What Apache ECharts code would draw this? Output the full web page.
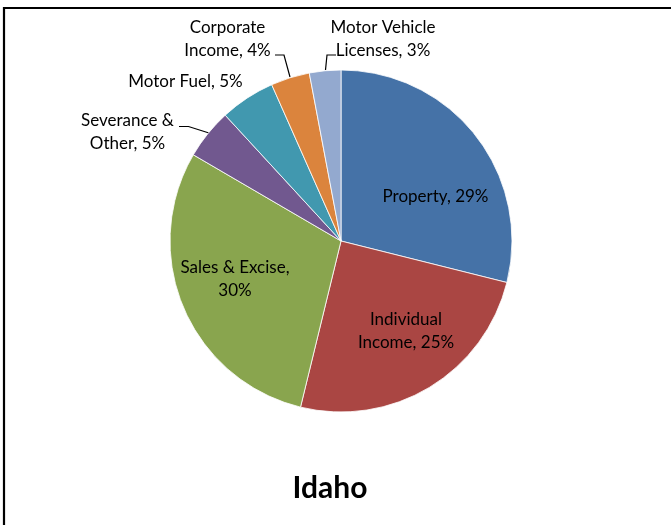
<!DOCTYPE html>
<html>
<head>
<meta charset="utf-8">
<script src="https://cdn.jsdelivr.net/npm/echarts@6/dist/echarts.min.js"></script>
<style>
html,body{margin:0;padding:0;background:#fff;}
#chart{width:671px;height:525px;}
</style>
</head>
<body>
<div id="chart"></div>
<script>
// ---- data ----
var categories = ["Property", "Individual Income", "Sales & Excise", "Severance & Other", "Motor Fuel", "Corporate Income", "Motor Vehicle Licenses"];
var shares = [28.9, 24.9, 29.6, 4.75, 5.2, 3.67, 2.97];
var chartTitle = "Idaho";

// ---- style / layout ----
var colors = ["#4572A7", "#AA4643", "#89A54E", "#71588F", "#4198AF", "#DB843D", "#93A9CF"];
var wrapAfter = [0, 1, 3, 2, 0, 1, 2]; // words on first label line (0 = single line)
var labelPos = [
  { x: 435.5, y: 197 },
  { x: 406, y: 331 },
  { x: 235, y: 279 },
  { x: 127.5, y: 132.5, line: [[209, 133], [188.5, 126.5], [179, 126.5]] },
  { x: 185.5, y: 82 },
  { x: 227.5, y: 39, line: [[290, 77], [284, 55], [275, 55]] },
  { x: 383, y: 39, line: [[325.5, 70], [327, 55], [336, 55]] }
];

var chart = echarts.init(document.getElementById('chart'), null, { renderer: 'canvas' });

var data = categories.map(function (c, i) {
  return {
    name: c,
    value: shares[i],
    itemStyle: { color: colors[i] },
    labelLine: { show: !!labelPos[i].line }
  };
});

chart.setOption({
  animation: false,
  backgroundColor: '#fff',
  graphic: [
    { type: 'rect', shape: { x: 4, y: 8, width: 800, height: 700 }, style: { fill: 'none', stroke: '#000', lineWidth: 2.2 }, silent: true },
    { type: 'text', x: 330, y: 488, style: { text: chartTitle, font: 'bold 30px Lato', fill: '#000', textAlign: 'center', textVerticalAlign: 'middle' } }
  ],
  series: [{
    type: 'pie',
    center: [341, 241],
    radius: [0, 171],
    startAngle: 90,
    clockwise: true,
    avoidLabelOverlap: false,
    itemStyle: { borderColor: '#fff', borderWidth: 0.8 },
    label: {
      show: true,
      position: 'outside',
      overflow: 'none',
      fontFamily: 'Lato',
      fontSize: 17,
      lineHeight: 23,
      color: '#000',
      align: 'center',
      formatter: function (p) {
        var words = (p.name + ', ' + Math.round(p.percent) + '%').split(' ');
        var k = wrapAfter[p.dataIndex];
        if (!k) return words.join(' ');
        return words.slice(0, k).join(' ') + '\n' + words.slice(k).join(' ');
      }
    },
    labelLine: { show: true, smooth: false, lineStyle: { color: '#000', width: 1.2 } },
    labelLayout: function (params) {
      var p = labelPos[params.dataIndex];
      var r = { x: p.x, y: p.y, align: 'center', verticalAlign: 'middle' };
      if (p.line) r.labelLinePoints = p.line;
      return r;
    },
    emphasis: { disabled: true },
    data: data
  }]
});
</script>
</body>
</html>
